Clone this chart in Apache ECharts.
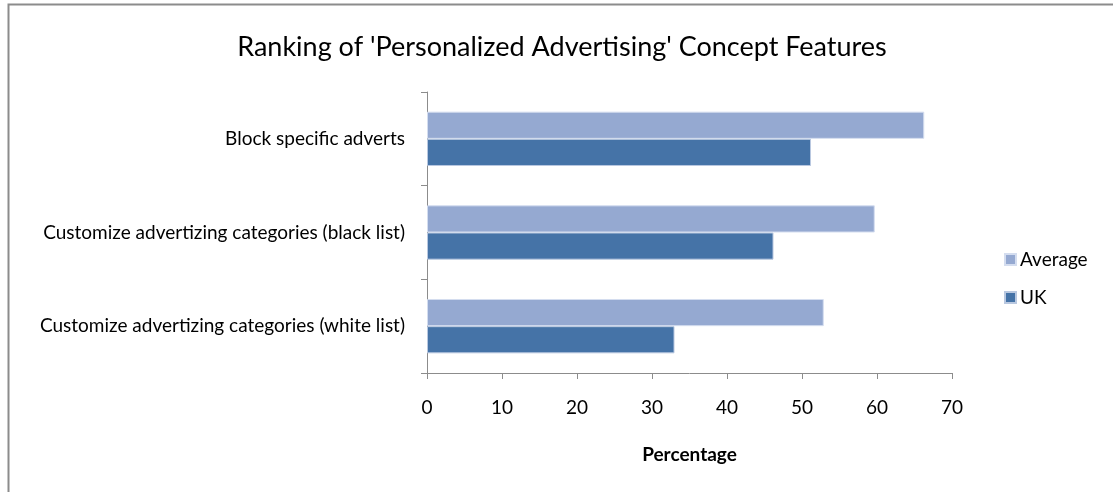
<!DOCTYPE html>
<html>
<head>
<meta charset="utf-8">
<script src="https://cdn.jsdelivr.net/npm/echarts@6/dist/echarts.min.js"></script>
<style>html,body{margin:0;padding:0;background:#fff;}#c{width:1113px;height:492px;}</style>
</head>
<body>
<div id="c"></div>
<script>
const categories = ['Block specific adverts', 'Customize advertizing categories (black list)', 'Customize advertizing categories (white list)'];
const seriesNames = ['Average', 'UK'];
const averageValues = [66.3, 59.7, 52.9];
const ukValues = [51.2, 46.2, 33.0];
const xTicks = [0, 10, 20, 30, 40, 50, 60, 70];

const font = 'Lato, "Open Sans", sans-serif';
const chart = echarts.init(document.getElementById('c'));
chart.setOption({
  backgroundColor: '#ffffff',
  animation: false,
  title: {
    text: "Ranking of 'Personalized Advertising' Concept Features",
    left: 557, top: 29, textAlign: 'center',
    textStyle: { fontFamily: font, fontSize: 27, fontWeight: 'normal', color: '#000' }
  },
  graphic: [{
    type: 'rect', shape: { x: 8.5, y: 4.5, width: 1200, height: 600 },
    style: { fill: 'none', stroke: '#8c8c8c', lineWidth: 2 }, silent: true
  }],
  legend: {
    orient: 'vertical', left: 999, top: 245, itemGap: 19,
    itemWidth: 11, itemHeight: 11, icon: 'rect',
    textStyle: { fontFamily: font, fontSize: 19, color: '#000', padding: [0, 0, 0, -1] },
    data: seriesNames
  },
  grid: { left: 427, right: 161, top: 92, bottom: 119, containLabel: false },
  xAxis: {
    type: 'value', min: 0, max: 70, interval: 10,
    name: 'Percentage', nameLocation: 'middle', nameGap: 72,
    nameTextStyle: { fontFamily: font, fontSize: 19, fontWeight: 'bold', color: '#000' },
    axisLine: { show: true, lineStyle: { color: '#8c8c8c', width: 1 } },
    axisTick: { show: true, length: 6, lineStyle: { color: '#8c8c8c' } },
    axisLabel: { fontFamily: font, fontSize: 19, color: '#000', margin: 25,
      formatter: v => xTicks.includes(v) ? String(v) : '' },
    splitLine: { show: false }
  },
  yAxis: {
    type: 'category', data: categories, inverse: true,
    axisLine: { show: true, lineStyle: { color: '#8c8c8c', width: 1 } },
    axisTick: { show: true, length: 6, lineStyle: { color: '#8c8c8c' } },
    axisLabel: { fontFamily: font, fontSize: 19, color: '#000', margin: 22 },
    splitLine: { show: false }
  },
  series: [
    { name: 'Average', type: 'bar', data: averageValues, barGap: '0%', barCategoryGap: '42%',
      itemStyle: { color: '#95a9d1', borderColor: '#d4ddef', borderWidth: 1 } },
    { name: 'UK', type: 'bar', data: ukValues, barGap: '0%', barCategoryGap: '42%',
      itemStyle: { color: '#4573a7', borderColor: '#b9c8e0', borderWidth: 1 } }
  ]
});
</script>
</body>
</html>
